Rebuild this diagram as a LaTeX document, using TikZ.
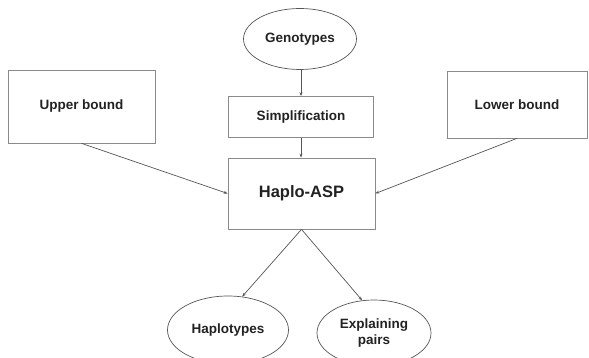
\documentclass[tikz,border=0pt]{standalone}
\usepackage{fontspec}
\setmainfont{Liberation Sans}
\usetikzlibrary{shapes.geometric,arrows.meta}
\definecolor{edgegray}{HTML}{555555}
\definecolor{boxgray}{HTML}{8A8A8A}
\definecolor{inkgray}{HTML}{222222}
\begin{document}
\begin{tikzpicture}[x=1pt,y=-1pt,
  lbl/.style={font=\bfseries\fontsize{13.5}{15.5}\selectfont, text=inkgray, align=center},
  stepbox/.style={lbl, draw=boxgray, line width=0.7pt, rectangle, inner sep=0pt},
  oval/.style={lbl, draw=edgegray, line width=0.7pt, ellipse, inner sep=0pt},
  conn/.style={draw=edgegray, line width=0.7pt, -{Stealth[length=4pt,width=3pt]}}]
\useasboundingbox (0,0) rectangle (589,358);
\clip (0,0) rectangle (589,358);

% inputs
\node[oval, minimum width=113pt, minimum height=61pt] (geno) at (300,39) {Genotypes};
\node[stepbox, minimum width=145pt, minimum height=41pt] (simp) at (301,117) {Simplification};
\node[stepbox, minimum width=147pt, minimum height=73pt] (upper) at (81.5,106.5) {Upper bound};
\node[stepbox, minimum width=140pt, minimum height=67pt] (lower) at (517,104.5) {Lower bound};

% solver
\node[stepbox, minimum width=147pt, minimum height=71pt,
      font=\bfseries\fontsize{16.5}{18}\selectfont] (asp) at (301.5,193.5) {Haplo-ASP};

% outputs
\node[oval, minimum width=121pt, minimum height=68pt] (hap) at (228,330) {Haplotypes};
\node[oval, minimum width=114pt, minimum height=66pt] (expl) at (374,333) {Explaining\\pairs};

% connectors
\draw[conn] (geno.south -| simp.north) -- (simp.north);
\draw[conn] (simp.south) -- (simp.south |- asp.north);
\draw[conn] (upper.south) -- (asp.west);
\draw[conn] (lower.south) -- (asp.east);
\draw[conn] (asp.south) -- (hap.67);
\draw[conn] (asp.south) -- (expl.110);
\end{tikzpicture}
\end{document}
